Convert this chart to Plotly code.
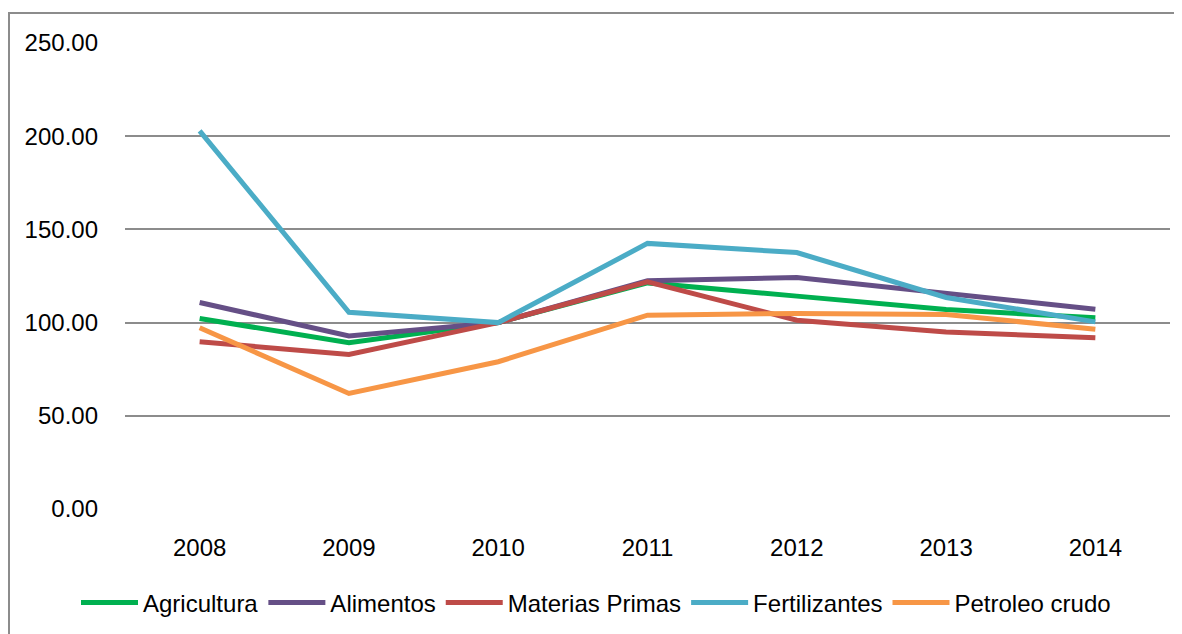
import plotly.graph_objects as go

years = ["2008", "2009", "2010", "2011", "2012", "2013", "2014"]
agricultura = [102.2, 89.2, 100.0, 121.3, 114.2, 107.0, 102.6]
alimentos = [110.8, 92.8, 100.0, 122.4, 124.2, 116.0, 107.2]
materias_primas = [89.7, 82.9, 100.0, 121.9, 101.3, 95.0, 91.9]
fertilizantes = [202.9, 105.5, 100.0, 142.5, 137.6, 113.5, 100.4]
petroleo_crudo = [97.2, 62.0, 79.0, 104.0, 104.9, 104.4, 96.4]

series = [
    ("Agricultura", agricultura, "#00B050"),
    ("Alimentos", alimentos, "#654F86"),
    ("Materias Primas", materias_primas, "#BE4B48"),
    ("Fertilizantes", fertilizantes, "#4BACC6"),
    ("Petroleo crudo", petroleo_crudo, "#F79646"),
]

FONT = "Liberation Sans Narrow, Arial Narrow, Liberation Sans, Arial, sans-serif"

# page has an 8px body margin; figure pixel = page pixel - 8
L, T, PW, PH = 117, 35, 1045, 466
W, H = 1182, 634

fig = go.Figure()
for name, vals, col in series:
    fig.add_trace(go.Scatter(
        x=list(range(len(years))), y=vals, name=name, mode="lines",
        line=dict(color=col, width=5),
    ))

fig.update_layout(
    width=W, height=H,
    paper_bgcolor="white", plot_bgcolor="white",
    margin=dict(l=L, r=W - L - PW, t=T, b=H - T - PH, autoexpand=False),
    font=dict(family=FONT, size=24, color="black"),
    showlegend=True,
    legend=dict(orientation="h", x=(76 - 125) / PW, xanchor="left", y=-(603 - 509) / PH, yanchor="middle",
                font=dict(size=24), itemwidth=57, tracegroupgap=0,
                bgcolor="rgba(0,0,0,0)"),
    xaxis=dict(
        range=[-0.5, 6.5], tickmode="array",
        tickvals=list(range(len(years))), ticktext=years,
        showgrid=False, zeroline=False, showline=False, ticks="",
        ticklabelstandoff=22, fixedrange=True,
    ),
    yaxis=dict(
        range=[0, 250], tickmode="array", tickvals=[0, 50, 100, 150, 200, 250],
        tickformat=".2f", showgrid=True, gridcolor="#8C8C8C", gridwidth=1.5,
        zeroline=False, showline=False, ticks="", ticklabelstandoff=26,
        fixedrange=True,
    ),
    shapes=[dict(type="rect", xref="paper", yref="paper",
                 x0=(1 - L) / PW, x1=(1168 - L) / PW,
                 y0=-(H + 20 - T - PH) / PH, y1=(T + PH - 5) / PH,
                 line=dict(color="#8C8C8C", width=2), fillcolor="rgba(0,0,0,0)",
                 layer="below")],
)

fig.write_html("out.html")
